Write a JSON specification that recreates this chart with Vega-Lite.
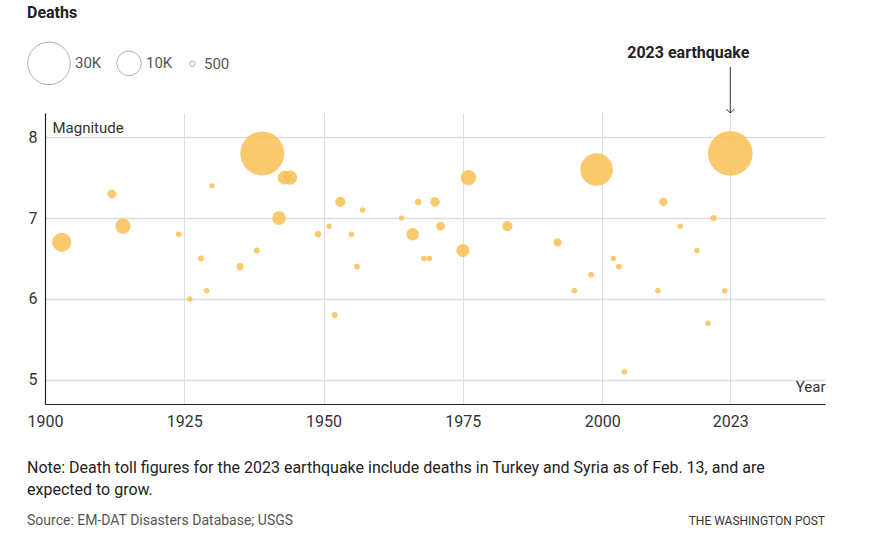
{
  "$schema": "https://vega.github.io/schema/vega-lite/v6.json",
  "autosize": {"type": "none"},
  "padding": {"left": 45, "top": 113, "right": 48, "bottom": 145},
  "width": 780,
  "height": 291,
  "background": "white",
  "config": {
    "font": "Roboto",
    "view": {"stroke": null},
    "axis": {"labelFont": "Roboto", "titleFont": "Roboto"}
  },
  "data": {
    "values": [
      {"year": 2023, "mag": 7.8, "deaths": 33000},
      {"year": 1939, "mag": 7.8, "deaths": 32000},
      {"year": 1999, "mag": 7.6, "deaths": 17500},
      {"year": 1903, "mag": 6.7, "deaths": 6100},
      {"year": 1914, "mag": 6.9, "deaths": 3900},
      {"year": 1976, "mag": 7.5, "deaths": 3900},
      {"year": 1944, "mag": 7.5, "deaths": 3300},
      {"year": 1943, "mag": 7.5, "deaths": 3200},
      {"year": 1942, "mag": 7.0, "deaths": 3100},
      {"year": 1975, "mag": 6.6, "deaths": 2800},
      {"year": 1966, "mag": 6.8, "deaths": 2550},
      {"year": 1953, "mag": 7.2, "deaths": 1700},
      {"year": 1983, "mag": 6.9, "deaths": 1700},
      {"year": 1970, "mag": 7.2, "deaths": 1500},
      {"year": 1912, "mag": 7.3, "deaths": 1300},
      {"year": 1971, "mag": 6.9, "deaths": 1300},
      {"year": 1992, "mag": 6.7, "deaths": 1150},
      {"year": 2011, "mag": 7.2, "deaths": 1150},
      {"year": 1935, "mag": 6.4, "deaths": 850},
      {"year": 1967, "mag": 7.2, "deaths": 700},
      {"year": 1949, "mag": 6.8, "deaths": 650},
      {"year": 1938, "mag": 6.6, "deaths": 600},
      {"year": 1952, "mag": 5.8, "deaths": 600},
      {"year": 2020, "mag": 7.0, "deaths": 600},
      {"year": 1928, "mag": 6.5, "deaths": 550},
      {"year": 1956, "mag": 6.4, "deaths": 550},
      {"year": 1998, "mag": 6.3, "deaths": 550},
      {"year": 2003, "mag": 6.4, "deaths": 550},
      {"year": 1924, "mag": 6.8, "deaths": 500},
      {"year": 1926, "mag": 6.0, "deaths": 500},
      {"year": 1929, "mag": 6.1, "deaths": 500},
      {"year": 1951, "mag": 6.9, "deaths": 500},
      {"year": 1955, "mag": 6.8, "deaths": 500},
      {"year": 1957, "mag": 7.1, "deaths": 500},
      {"year": 1968, "mag": 6.5, "deaths": 500},
      {"year": 1969, "mag": 6.5, "deaths": 500},
      {"year": 1995, "mag": 6.1, "deaths": 500},
      {"year": 2002, "mag": 6.5, "deaths": 500},
      {"year": 2004, "mag": 5.1, "deaths": 500},
      {"year": 2010, "mag": 6.1, "deaths": 500},
      {"year": 2014, "mag": 6.9, "deaths": 500},
      {"year": 2017, "mag": 6.6, "deaths": 500},
      {"year": 2019, "mag": 5.7, "deaths": 500},
      {"year": 2022, "mag": 6.1, "deaths": 500},
      {"year": 1930, "mag": 7.4, "deaths": 450},
      {"year": 1964, "mag": 7.0, "deaths": 450}
    ]
  },
  "layer": [
    {
      "mark": {"type": "circle", "opacity": 0.85},
      "encoding": {
        "x": {
          "field": "year", "type": "quantitative",
          "scale": {"domain": [1900, 2040], "nice": false, "zero": false},
          "axis": {
            "values": [1900, 1925, 1950, 1975, 2000, 2023],
            "format": "d",
            "labelFlush": false,
            "title": "Year",
            "titleX": 780, "titleY": -18, "titleAlign": "right", "titleBaseline": "middle",
            "titleFontSize": 15, "titleFontWeight": "normal", "titleColor": "#333",
            "labelFontSize": 16, "labelColor": "#333", "labelPadding": 9,
            "ticks": false,
            "domainColor": "#222", "domainWidth": 1.2,
            "grid": true, "gridColor": "#ddd", "gridWidth": 1
          }
        },
        "y": {
          "field": "mag", "type": "quantitative",
          "scale": {"domain": [4.7, 8.3], "nice": false, "zero": false},
          "axis": {
            "values": [5, 6, 7, 8],
            "format": "d",
            "labelFlush": false,
            "title": "Magnitude",
            "titleAngle": 0, "titleX": 7, "titleY": 14, "titleAlign": "left", "titleBaseline": "middle",
            "titleFontSize": 15, "titleFontWeight": "normal", "titleColor": "#333",
            "labelFontSize": 16, "labelColor": "#333", "labelPadding": 8,
            "ticks": false,
            "domainColor": "#222", "domainWidth": 1.2,
            "grid": true, "gridColor": "#ddd", "gridWidth": 1.5
          }
        },
        "color": {
          "field": "deaths", "type": "quantitative",
          "scale": {"range": ["#f9bf55", "#f9bf55"]},
          "legend": null
        },
        "size": {
          "field": "deaths", "type": "quantitative",
          "scale": {"type": "linear", "domain": [0, 30000], "range": [0, 1810]},
          "legend": {
            "title": "Deaths",
            "orient": "none",
            "legendX": -18,
            "legendY": -108,
            "direction": "horizontal",
            "values": [30000, 10000, 500],
            "labelExpr": "datum.value >= 1000 ? format(datum.value / 1000, 'd') + 'K' : format(datum.value, 'd')",
            "titleFontSize": 16, "titleFontWeight": "bold", "titleColor": "#222", "titleFont": "Roboto",
            "titlePadding": 20,
            "labelFontSize": 15, "labelColor": "#555", "labelFont": "Roboto",
            "symbolFillColor": "transparent", "symbolStrokeColor": "#b0b0b0", "symbolStrokeWidth": 1, "symbolOpacity": 1,
            "columnPadding": 12
          }
        },
        "order": {"field": "deaths", "type": "quantitative", "sort": "descending"}
      }
    },
    {
      "data": {"values": [{}]},
      "mark": {"type": "text", "text": "2023 earthquake", "fontSize": 16, "fontWeight": "bold", "color": "#222", "dx": -42, "baseline": "middle", "font": "Roboto"},
      "encoding": {"x": {"datum": 2023, "type": "quantitative"}, "y": {"datum": 9.04, "type": "quantitative"}}
    },
    {
      "data": {"values": [{}]},
      "mark": {"type": "rule", "color": "#333", "strokeWidth": 1},
      "encoding": {
        "x": {"datum": 2023, "type": "quantitative"},
        "y": {"datum": 8.87, "type": "quantitative"},
        "y2": {"datum": 8.3}
      }
    },
    {
      "data": {"values": [{}]},
      "mark": {"type": "point", "shape": "M-1,-1L0,0L1,-1", "size": 64, "filled": false, "color": "#333", "strokeWidth": 1, "opacity": 1},
      "encoding": {"x": {"datum": 2023, "type": "quantitative"}, "y": {"datum": 8.3, "type": "quantitative"}}
    },
    {
      "data": {"values": [{}]},
      "mark": {"type": "text", "text": ["Note: Death toll figures for the 2023 earthquake include deaths in Turkey and Syria as of Feb. 13, and are", "expected to grow."], "fontSize": 16, "lineHeight": 22, "color": "#222", "align": "left", "baseline": "middle", "dx": -18, "font": "Roboto"},
      "encoding": {"x": {"datum": 1900, "type": "quantitative"}, "y": {"datum": 3.908, "type": "quantitative"}}
    },
    {
      "data": {"values": [{}]},
      "mark": {"type": "text", "text": "Source: EM-DAT Disasters Database; USGS", "fontSize": 14, "color": "#555", "align": "left", "baseline": "middle", "dx": -18, "font": "Roboto"},
      "encoding": {"x": {"datum": 1900, "type": "quantitative"}, "y": {"datum": 3.2525, "type": "quantitative"}}
    },
    {
      "data": {"values": [{}]},
      "mark": {"type": "text", "text": "THE WASHINGTON POST", "fontSize": 12, "color": "#333", "align": "right", "baseline": "middle", "font": "Roboto"},
      "encoding": {"x": {"datum": 2040, "type": "quantitative"}, "y": {"datum": 3.2525, "type": "quantitative"}}
    }
  ]
}
